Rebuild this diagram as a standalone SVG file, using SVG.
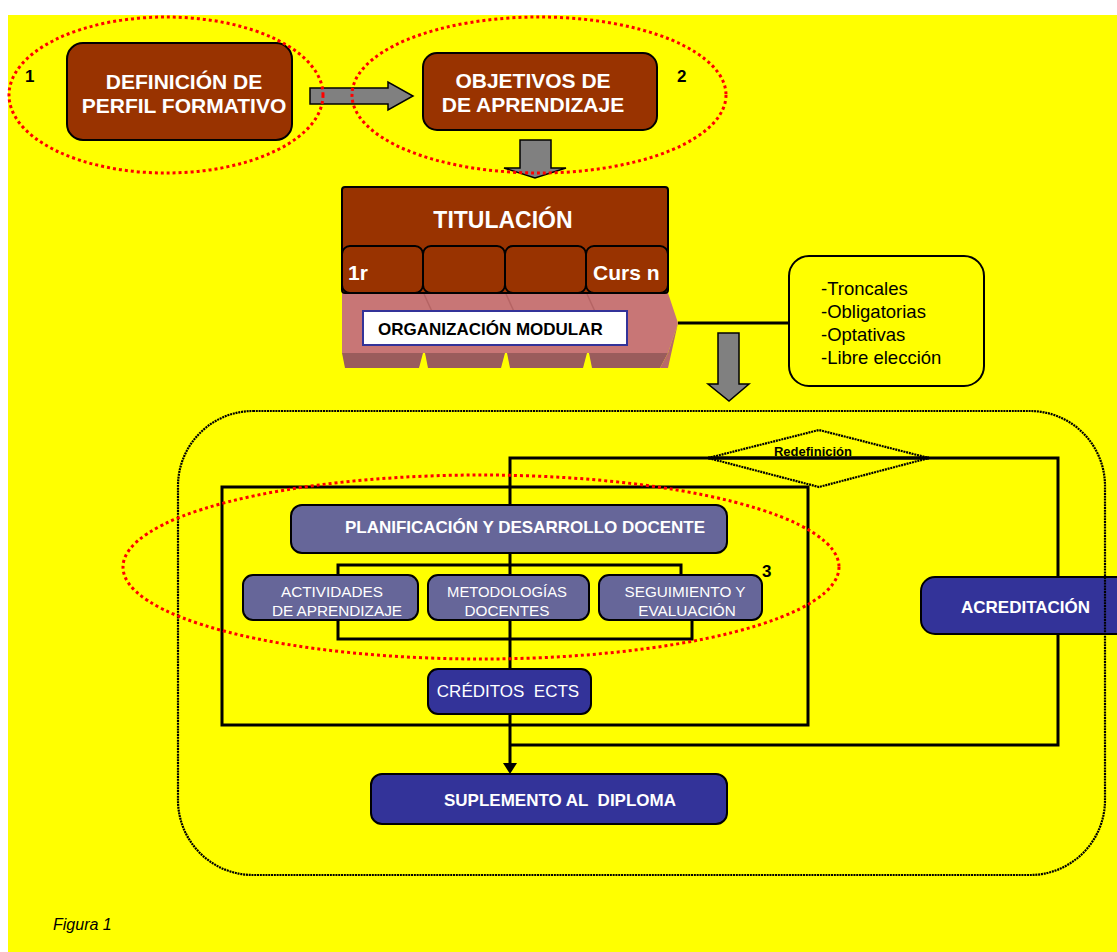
<svg xmlns="http://www.w3.org/2000/svg" width="1117" height="952" viewBox="0 0 1117 952">
<style>
text{font-family:"Liberation Sans",Arial,sans-serif;}
.w{fill:#ffffff;}
.b{font-weight:bold;}
.brown{fill:#993300;stroke:#000;stroke-width:2;}
.lav{fill:#666699;stroke:#000;stroke-width:2;}
.navy{fill:#333399;stroke:#000;stroke-width:2;}
.gray{fill:#808080;stroke:#000;stroke-width:1.5;}
.conn{fill:none;stroke:#000;stroke-width:3;}
.red{fill:none;stroke:#ff0000;stroke-width:3;stroke-dasharray:3 3;}
.dots{fill:none;stroke:#000;stroke-width:2.2;stroke-dasharray:2 0.8;}
.pre{white-space:pre;}
</style>
<rect x="0" y="0" width="1117" height="952" fill="#ffffff"/>
<rect x="8" y="15" width="1109" height="937" fill="#ffff00"/>

<g id="connectors">
<line class="conn" x1="678" y1="323" x2="789" y2="323"/>
<polyline class="conn" points="510,505 510,458 1058,458 1058,745 510,745"/>
<rect class="conn" x="222" y="487" width="586" height="238"/>
<line class="conn" x1="510" y1="553" x2="510" y2="575"/>
<polyline class="conn" points="338,575 338,565 681,565 681,575"/>
<polyline class="conn" points="338,620 338,639 692,639 692,620"/>
<line class="conn" x1="510" y1="620" x2="510" y2="669"/>
<line class="conn" x1="510" y1="714" x2="510" y2="765"/>
<polygon points="503,763 517,763 510,774" fill="#000"/>
</g>

<g id="arrow-right">
<polygon class="gray" points="310,88 388,88 388,82 413,96 388,110 388,104 310,104"/>
</g>
<g id="arrow-down-1">
<polygon class="gray" points="520,140 551,140 551,168 566,168 535,178 504,168 520,168"/>
</g>
<g id="arrow-down-2">
<polygon class="gray" points="718,333 739,333 739,384 749,384 729,401 708,384 718,384"/>
</g>

<g id="definicion">
<rect class="brown" x="67" y="43" width="225" height="97" rx="16"/>
<text class="w b" x="184" y="89" font-size="21" text-anchor="middle">DEFINICIÓN DE</text>
<text class="w b" x="184" y="113" font-size="21" text-anchor="middle">PERFIL FORMATIVO</text>
</g>

<g id="objetivos">
<rect class="brown" x="423" y="53" width="234" height="77" rx="14"/>
<text class="w b" x="533" y="88" font-size="21" text-anchor="middle">OBJETIVOS DE</text>
<text class="w b" x="533" y="112" font-size="21" text-anchor="middle">DE APRENDIZAJE</text>
</g>

<g id="organizacion">
<polygon points="342,293 668,293 678,323 668,353 342,353" fill="#c87676"/>
<g stroke="#b56464" stroke-width="1.5">
<line x1="424" y1="294" x2="434" y2="316"/>
<line x1="506" y1="294" x2="516" y2="316"/>
<line x1="587" y1="294" x2="597" y2="316"/>
</g>
<polygon points="342,353 423,353 419,368 345,368" fill="#9a5c5c"/>
<polygon points="425,353 505,353 501,368 428,368" fill="#9a5c5c"/>
<polygon points="507,353 587,353 583,368 510,368" fill="#9a5c5c"/>
<polygon points="589,353 668,353 660,368 592,368" fill="#9a5c5c"/>
<polygon points="668,353 678,323 668,368 660,368" fill="#b86a6a"/>
<rect x="363" y="311" width="264" height="34" fill="#ffffff" stroke="#333399" stroke-width="2"/>
<text class="b" x="378" y="335" font-size="17" fill="#000">ORGANIZACIÓN MODULAR</text>
</g>

<g id="titulacion">
<rect class="brown" x="342" y="187" width="326" height="106" rx="3"/>
<text class="w b" x="503" y="228" font-size="23" text-anchor="middle">TITULACIÓN</text>
<rect class="brown" x="342" y="246" width="81" height="47" rx="8"/>
<rect class="brown" x="423" y="246" width="82" height="47" rx="8"/>
<rect class="brown" x="505" y="246" width="81" height="47" rx="8"/>
<rect class="brown" x="586" y="246" width="82" height="47" rx="8"/>
<text class="w b" x="348" y="280" font-size="21">1r</text>
<text class="w b" x="593" y="280" font-size="21">Curs n</text>
</g>

<g id="tipos">
<rect x="789" y="256" width="195" height="130" rx="20" fill="none" stroke="#000" stroke-width="2"/>
<text x="821" y="295" font-size="18.5" fill="#000">-Troncales</text>
<text x="821" y="318" font-size="18.5" fill="#000">-Obligatorias</text>
<text x="821" y="341" font-size="18.5" fill="#000">-Optativas</text>
<text x="821" y="364" font-size="18.5" fill="#000">-Libre elección</text>
</g>

<g id="redefinicion">
<polygon class="dots" points="708,458 819,430 929,458 819,487" stroke-width="1.5"/>
<line class="conn" x1="708" y1="458" x2="929" y2="458"/>
<text class="b" x="813" y="456" font-size="13" text-anchor="middle" fill="#000">Redefinición</text>
</g>

<g id="planificacion">
<rect class="lav" x="291" y="505" width="436" height="48" rx="11"/>
<text class="w b" x="525" y="533" font-size="17" text-anchor="middle">PLANIFICACIÓN Y DESARROLLO DOCENTE</text>
</g>

<g id="actividades">
<rect class="lav" x="243" y="575" width="175" height="45" rx="10"/>
<text class="w" x="332" y="597" font-size="15.3" text-anchor="middle">ACTIVIDADES</text>
<text class="w" x="337" y="616" font-size="15.3" text-anchor="middle">DE APRENDIZAJE</text>
</g>

<g id="metodologias">
<rect class="lav" x="428" y="575" width="161" height="45" rx="10"/>
<text class="w" x="507" y="597" font-size="14.8" text-anchor="middle">METODOLOGÍAS</text>
<text class="w" x="507" y="616" font-size="15.3" text-anchor="middle">DOCENTES</text>
</g>

<g id="seguimiento">
<rect class="lav" x="599" y="575" width="163" height="45" rx="10"/>
<text class="w" x="685" y="597" font-size="15.3" text-anchor="middle">SEGUIMIENTO Y</text>
<text class="w" x="687" y="616" font-size="15.3" text-anchor="middle">EVALUACIÓN</text>
</g>

<g id="creditos">
<rect class="navy" x="428" y="669" width="163" height="45" rx="10"/>
<text class="w pre" x="508" y="697" font-size="17" text-anchor="middle">CRÉDITOS  ECTS</text>
</g>

<g id="acreditacion">
<rect class="navy" x="921" y="577" width="260" height="57" rx="14"/>
<text class="w b" x="961" y="613" font-size="17">ACREDITACIÓN</text>
</g>

<g id="suplemento">
<rect class="navy" x="371" y="774" width="356" height="50" rx="11"/>
<text class="w b pre" x="560" y="806" font-size="17" text-anchor="middle">SUPLEMENTO AL  DIPLOMA</text>
</g>

<g id="container">
<rect class="dots" x="178" y="411" width="927" height="464" rx="75" ry="75"/>
</g>

<g id="highlights">
<ellipse class="red" cx="166" cy="95" rx="157" ry="78"/>
<ellipse class="red" cx="539" cy="95" rx="187" ry="78"/>
<ellipse class="red" cx="481" cy="567" rx="358" ry="92"/>
<text class="b" x="25" y="82" font-size="17" fill="#000">1</text>
<text class="b" x="677" y="82" font-size="17" fill="#000">2</text>
<text class="b" x="762" y="577" font-size="17" fill="#000">3</text>
</g>

<g id="caption">
<text x="53" y="930" font-size="16" font-style="italic" fill="#000">Figura 1</text>
</g>
</svg>
